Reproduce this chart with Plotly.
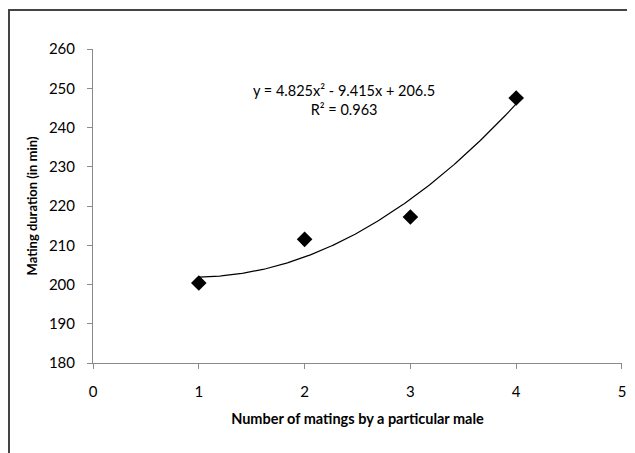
import numpy as np
import plotly.graph_objects as go

# Data
matings = [1, 2, 3, 4]
duration = [200.4, 211.5, 217.2, 247.5]
x_ticks = [0, 1, 2, 3, 4, 5]
y_ticks = [180, 190, 200, 210, 220, 230, 240, 250, 260]
equation_text = "y = 4.825x² - 9.415x + 206.5<br>R² = 0.963"

# Polynomial trendline (order 2) fitted to the data, as Excel does
coef = np.polyfit(matings, duration, 2)
xf = np.linspace(min(matings), max(matings), 200)
yf = np.polyval(coef, xf)

FONT = "Lato, 'Open Sans', sans-serif"

fig = go.Figure()
fig.add_trace(go.Scatter(x=xf, y=yf, mode="lines",
                         line=dict(color="black", width=1.2),
                         hoverinfo="skip", showlegend=False))
fig.add_trace(go.Scatter(x=matings, y=duration, mode="markers",
                         marker=dict(symbol="diamond", size=12, color="black"),
                         showlegend=False))

fig.add_annotation(x=2.37, y=247.0, xref="x", yref="y", text=equation_text,
                   showarrow=False, align="center",
                   font=dict(family=FONT, size=14.5, color="black"))

# outer chart border (extends past the right/bottom edges of the picture)
fig.add_shape(type="rect", xref="paper", yref="paper",
              x0=-0.1588, x1=1.05, y0=-0.35, y1=1.1243,
              line=dict(color="#444444", width=2), layer="below")

axis_common = dict(showgrid=False, zeroline=False, showline=True,
                   linecolor="#8a8a8a", linewidth=1,
                   ticks="outside", ticklen=5, tickcolor="#8a8a8a")

fig.update_xaxes(range=[0, 5.0001], tickvals=x_ticks, ticktext=[str(v) for v in x_ticks],
                 tickfont=dict(family=FONT, size=15, color="black"),
                 ticklabelstandoff=10,
                 title=dict(text="<b>Number of matings by a particular male</b>",
                            font=dict(family=FONT, size=14.5, color="black"),
                            standoff=14),
                 **axis_common)
fig.update_yaxes(range=[180, 260.0001], tickvals=y_ticks, ticktext=[str(v) for v in y_ticks],
                 tickfont=dict(family=FONT, size=15, color="black"),
                 ticklabelstandoff=9,
                 title=dict(text="<b>Mating duration (in min)</b>",
                            font=dict(family=FONT, size=13, color="black"),
                            standoff=8),
                 **axis_common)

fig.update_layout(width=627, height=445,
                  margin=dict(l=85, r=13, t=41, b=90, autoexpand=False),
                  plot_bgcolor="white", paper_bgcolor="white",
                  font=dict(family=FONT, color="black"))

fig.write_html("out.html")
